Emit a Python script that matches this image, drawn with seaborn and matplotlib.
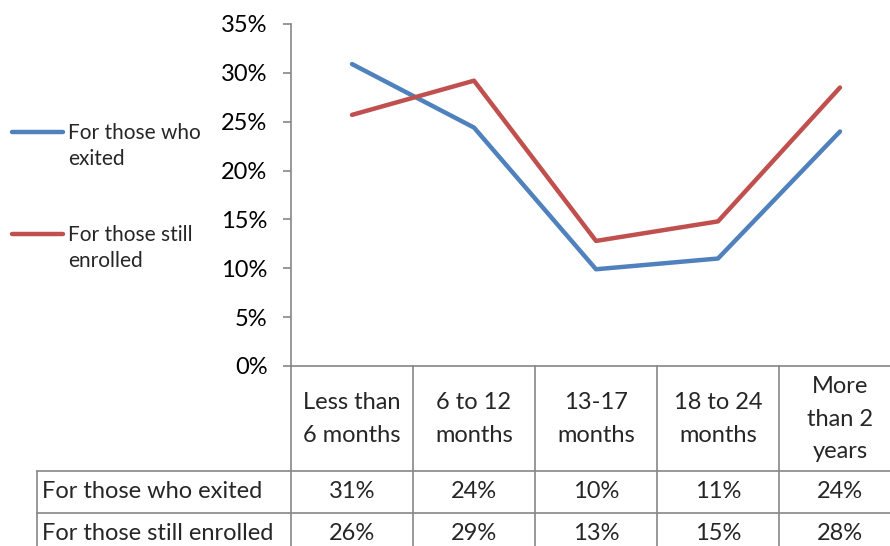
import pandas as pd
import matplotlib.pyplot as plt
import seaborn as sns
from matplotlib.lines import Line2D
from matplotlib.transforms import blended_transform_factory

# chart data
categories = ['Less than\n6 months', '6 to 12\nmonths', '13-17\nmonths', '18 to 24\nmonths', 'More\nthan 2\nyears']
series_names = ['For those who exited', 'For those still enrolled']
legend_labels = ['For those who\nexited', 'For those still\nenrolled']
exited = [30.9, 24.4, 9.9, 11.0, 24.0]
enrolled = [25.7, 29.2, 12.8, 14.8, 28.5]
table_exited = ['31%', '24%', '10%', '11%', '24%']
table_enrolled = ['26%', '29%', '13%', '15%', '28%']
yticks = [0, 5, 10, 15, 20, 25, 30, 35]

colors = ['#4F81BD', '#C0504D']
grid_gray = '#868686'

W, H = 890, 546


def fx(px):
    return px / W


def fy(py):
    return 1 - py / H


def main():
    sns.set_theme(style='white')
    plt.rcParams['font.family'] = ['Lato', 'DejaVu Sans']

    df = pd.DataFrame({
        'category': categories * 2,
        'pos': list(range(len(categories))) * 2,
        'value': exited + enrolled,
        'series': [series_names[0]] * 5 + [series_names[1]] * 5,
    })

    fig = plt.figure(figsize=(W / 100, H / 100), dpi=100)
    # plot area: x from 291 to 901 px, y from 24 to 366 px
    ax = fig.add_axes([fx(291), fy(366), 610 / W, 342 / H])
    sns.lineplot(data=df, x='pos', y='value', hue='series', palette=colors,
                 linewidth=3.2, ax=ax, legend=False, solid_capstyle='round')

    ax.set_xlim(-0.5, len(categories) - 0.5)
    ax.set_ylim(0, 35)
    ax.set_yticks(yticks)
    ax.set_yticklabels([f'{t}%' for t in yticks], fontsize=17)
    ax.set_xticks([])
    ax.set_xlabel('')
    ax.set_ylabel('')
    for side in ['top', 'right']:
        ax.spines[side].set_visible(False)
    for side in ['left', 'bottom']:
        ax.spines[side].set_color(grid_gray)
        ax.spines[side].set_linewidth(1.2)
    ax.tick_params(axis='y', which='major', direction='out', length=6,
                   width=1.2, color=grid_gray, pad=11, left=True, labelcolor='black')

    # data table under the plot
    tr = blended_transform_factory(ax.transData, fig.transFigure)
    ftr = fig.transFigure
    line_kw = dict(color=grid_gray, linewidth=1.2, clip_on=False)

    # column separators
    for i in range(len(categories)):
        fig.add_artist(Line2D([i - 0.5, i - 0.5], [fy(366), 0], transform=tr, **line_kw))
    # row separators
    for py in [471, 513]:
        fig.add_artist(Line2D([fx(37), 1], [fy(py), fy(py)], transform=ftr, **line_kw))
    fig.add_artist(Line2D([fx(37), fx(37)], [fy(471), 0], transform=ftr, **line_kw))

    for i, cat in enumerate(categories):
        fig.text(i, fy(419), cat, transform=tr, ha='center', va='center',
                 multialignment='center', fontsize=17, linespacing=1.7)
        fig.text(i, fy(492), table_exited[i], transform=tr, ha='center', va='center', fontsize=17)
        fig.text(i, fy(533), table_enrolled[i], transform=tr, ha='center', va='center', fontsize=17)
    for name, py in zip(series_names, [492, 533]):
        fig.text(fx(42), fy(py), name, ha='left', va='center', fontsize=17)

    # legend on the left
    for label, color, py in zip(legend_labels, colors, [132, 234]):
        fig.add_artist(Line2D([fx(12), fx(63)], [fy(py), fy(py)], transform=ftr,
                              color=color, linewidth=3.2, solid_capstyle='round'))
        fig.text(fx(68), fy(py - 9), label, ha='left', va='top', fontsize=15,
                 linespacing=1.35)

    fig.savefig('out.png', dpi=100)


if __name__ == '__main__':
    main()
